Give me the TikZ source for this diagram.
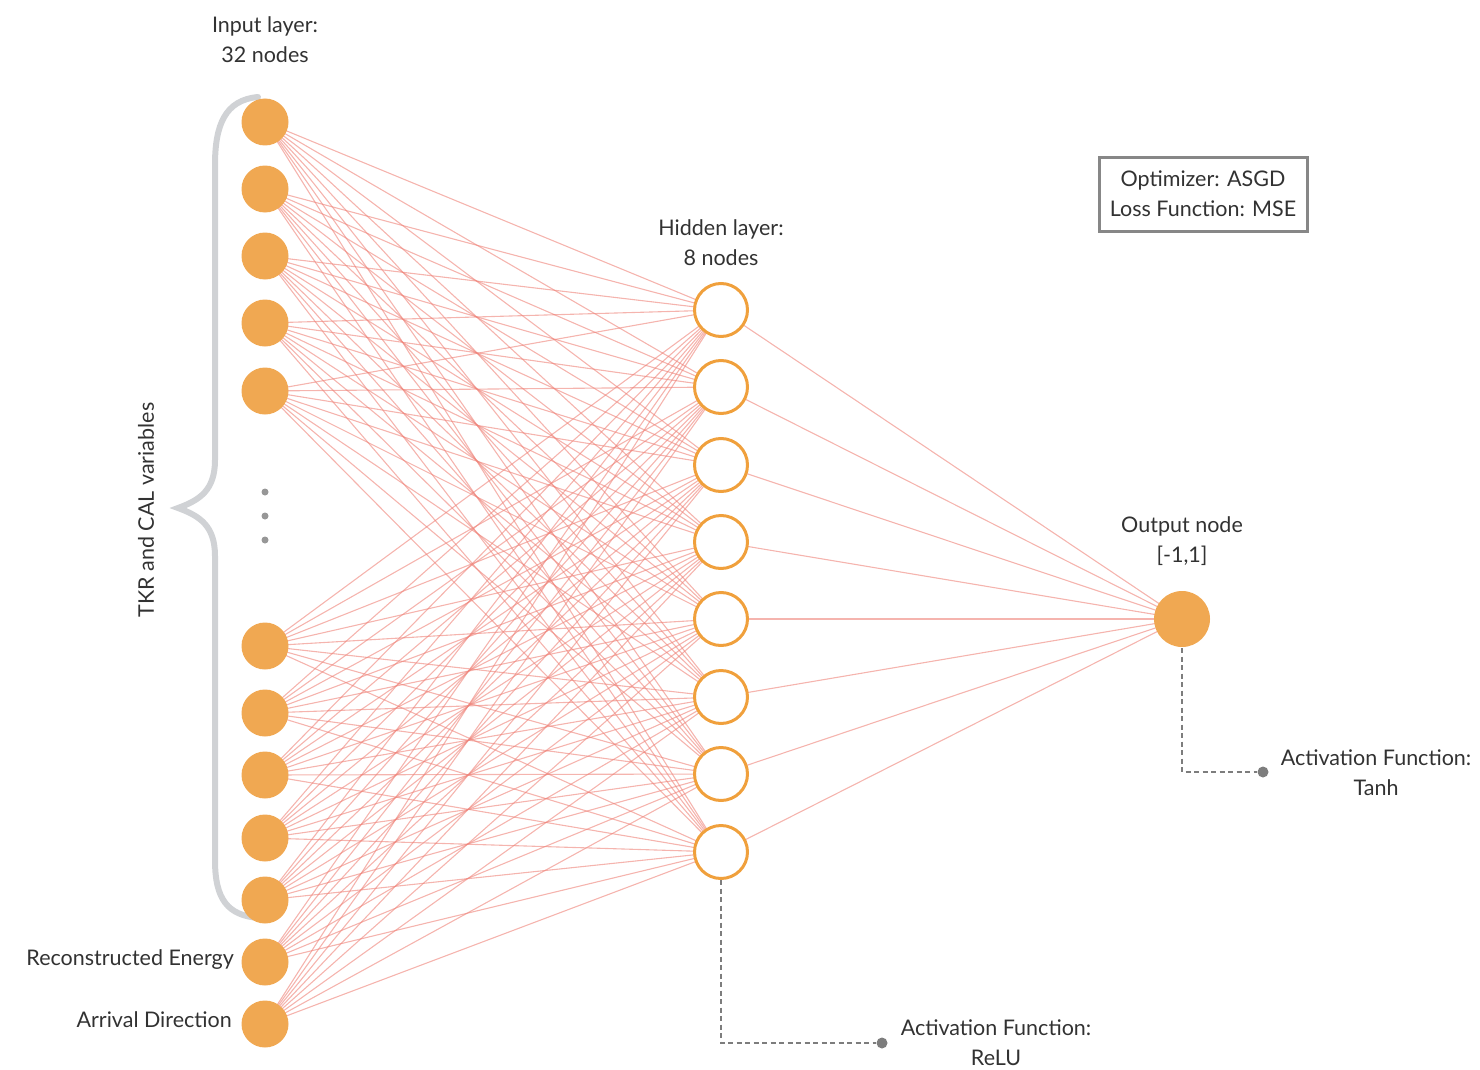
\documentclass[tikz,border=0pt]{standalone}
\usepackage{fontspec}
\setmainfont{Lato}
\definecolor{nodeorange}{RGB}{240,168,82}
\definecolor{ringorange}{RGB}{240,160,60}
\definecolor{edgered}{RGB}{238,130,120}
\definecolor{txtgray}{RGB}{50,50,50}
\definecolor{bracegray}{RGB}{208,210,213}
\definecolor{dashgray}{RGB}{125,125,125}
\definecolor{boxgray}{RGB}{135,135,135}
\begin{document}
\begin{tikzpicture}[x=1pt,y=-1pt,
  innode/.style={circle,fill=nodeorange,draw=none,minimum size=47pt,inner sep=0pt},
  hidnode/.style={circle,fill=white,draw=ringorange,line width=3pt,minimum size=53pt,inner sep=0pt},
  outnode/.style={circle,fill=nodeorange,draw=none,minimum size=56pt,inner sep=0pt},
  edge/.style={draw=edgered,line width=1.1pt,opacity=0.6},
  lbl/.style={font=\fontsize{21.5}{30}\selectfont,text=txtgray,align=center,inner sep=0pt},
  dashline/.style={draw=dashgray,line width=2.8pt,dash pattern=on 5pt off 3.5pt},
  dotgray/.style={circle,fill=dashgray,minimum size=11pt,inner sep=0pt},
  vdot/.style={circle,fill=dashgray!80,minimum size=7pt,inner sep=0pt}]
\useasboundingbox (0,0) rectangle (1480,1070);

% brace
\draw[bracegray,line width=6pt,line cap=round]
  (258,97) .. controls (225,100) and (215,125) .. (215,165)
  -- (215,460) .. controls (215,490) and (200,500) .. (178,508)
  .. controls (200,516) and (215,526) .. (215,556)
  -- (215,860) .. controls (215,900) and (228,915) .. (258,918);

% coordinates for nodes
\foreach \n/\y in {1/122,2/189,3/256,4/323,5/391,6/646,7/713,8/775,9/838,10/900,11/962,12/1024}
  \coordinate (i\n) at (265,\y);
\foreach \n/\y in {1/310,2/387,3/465,4/542,5/619,6/697,7/774,8/852}
  \coordinate (h\n) at (721,\y);
\coordinate (o) at (1182,619);

% edges
\foreach \i in {1,...,12}
  \foreach \h in {1,...,8}
    \draw[edge] (i\i) -- (h\h);
\foreach \h in {1,...,8}
  \draw[edge] (h\h) -- (o);

% dashed connectors
\node[dotgray] (rd) at (882,1043) {};
\node[dotgray] (td) at (1263,772) {};
\draw[dashline] (h8) ++(0,28) |- (rd);
\draw[dashline] (o) ++(0,29) |- (td);

% nodes
\foreach \n in {1,...,12}
  \node[innode] (I\n) at (i\n) {};
\foreach \n in {1,...,8}
  \node[hidnode] (H\n) at (h\n) {};
\node[outnode] (O) at (o) {};

% vertical dots
\node[vdot] (d1) at (265,492) {};
\node[vdot] (d2) at (265,516) {};
\node[vdot] (d3) at (265,540) {};

% labels
\node[lbl] (lin) at (265,40) {Input layer:\\32 nodes};
\node[lbl] (lhid) at (721,243) {Hidden layer:\\8 nodes};
\node[lbl] (lout) at (1182,541) {Output node\\{[-1,1]}};
\node[lbl,rotate=90] (ltkr) at (146,510) {TKR and CAL variables};
\node[lbl,anchor=east] (lre) at (234,960) {Reconstructed Energy};
\node[lbl,anchor=east] (lad) at (232,1020) {Arrival Direction};
\node[lbl] (lrelu) at (996,1043) {Activation Function:\\ReLU};
\node[lbl] (ltanh) at (1376,773) {Activation Function:\\Tanh};
\node[lbl,draw=boxgray,line width=3pt,minimum width=208pt,minimum height=74pt] (box) at (1203,194) {Optimizer: ASGD\\Loss Function: MSE};
\end{tikzpicture}
\end{document}
